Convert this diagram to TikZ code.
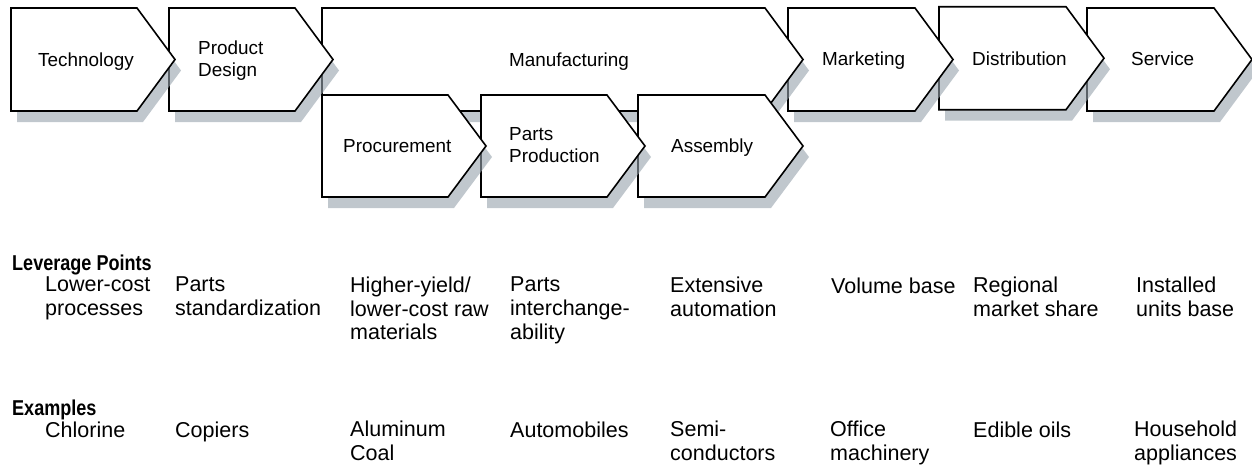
\documentclass[tikz,border=0pt]{standalone}
\usepackage{fontspec}
\setmainfont{Liberation Sans}
\newfontfamily\condbf[FakeStretch=0.84]{Liberation Sans}
\definecolor{shadowc}{RGB}{150,162,172}
\tikzset{
  chevshape/.style={draw=black, line width=1.6pt, fill=white, line join=miter},
  shad/.style={fill=shadowc, fill opacity=0.6, draw=none},
  lab/.style={anchor=north west, inner sep=0pt, font=\fontsize{18.9}{22}\selectfont, align=left, execute at begin node={\rule{0pt}{16pt}}},
  txt/.style={anchor=north west, inner sep=0pt, font=\fontsize{21.5}{23.8}\selectfont, align=left, execute at begin node={\rule{0pt}{17pt}}},
  head/.style={anchor=north west, inner sep=0pt, font=\fontsize{21.5}{23.8}\condbf\bfseries, execute at begin node={\rule{0pt}{17pt}}},
}
% x, y, w, h
\newcommand\chevron[4]{%
  \fill[shad, shift={(6,11)}] (#1,#2) -- ++(#3,0) -- ++(38,#4/2) -- ++(-38,#4/2) -- ++(-#3,0) -- cycle;
  \draw[chevshape] (#1,#2) -- ++(#3,0) -- ++(38,#4/2) -- ++(-38,#4/2) -- ++(-#3,0) -- cycle;
}
\begin{document}
\begin{tikzpicture}[x=1pt,y=-1pt]
\useasboundingbox (0,0) rectangle (1252,464);
% top row, right to left
\chevron{1087}{8}{127}{103}
\chevron{939}{6.7}{127}{103}
\chevron{788}{8}{127}{103}
\chevron{322}{8}{443}{103}
\chevron{169}{8}{126}{103}
\chevron{11}{8}{126}{103}
% lower row
\chevron{638}{95}{127}{102}
\chevron{481}{95}{126}{102}
\chevron{322}{95}{126}{102}
% labels (y = baseline - 16)
\node[lab] (tech) at (38,50.5) {Technology};
\node[lab] (pd) at (198,41) {Product\\Design};
\node[lab] (manu) at (509,50) {Manufacturing};
\node[lab] (mkt) at (822,49) {Marketing};
\node[lab] (dist) at (972,49) {Distribution};
\node[lab] (serv) at (1131,49) {Service};
\node[lab] (proc) at (343,136) {Procurement};
\node[lab] (parts) at (509,127) {Parts\\Production};
\node[lab] (asm) at (671,136.5) {Assembly};
% leverage points (y = baseline - 17)
\node[head] (lev) at (12,253) {Leverage Points};
\node[txt] (l1) at (45,276.5) {Lower-cost\\processes};
\node[txt] (l2) at (175,276.5) {Parts\\standardization};
\node[txt] (l3) at (350,276.5) {Higher-yield/\\lower-cost raw\\materials};
\node[txt] (l4) at (510,276.5) {Parts\\interchange-\\ability};
\node[txt] (l5) at (670,276.5) {Extensive\\automation};
\node[txt] (l6) at (831,276.5) {Volume base};
\node[txt] (l7) at (973,276.5) {Regional\\market share};
\node[txt] (l8) at (1136,276.5) {Installed\\units base};
% examples
\node[head] (ex) at (12,398.5) {Examples};
\node[txt] (e1) at (45,420.5) {Chlorine};
\node[txt] (e2) at (175,420.5) {Copiers};
\node[txt] (e3) at (350,420.5) {Aluminum\\Coal};
\node[txt] (e4) at (510,420.5) {Automobiles};
\node[txt] (e5) at (670,420.5) {Semi-\\conductors};
\node[txt] (e6) at (830,420.5) {Office\\machinery};
\node[txt] (e7) at (973,420.5) {Edible oils};
\node[txt] (e8) at (1134,420.5) {Household\\appliances};
\end{tikzpicture}
\end{document}
